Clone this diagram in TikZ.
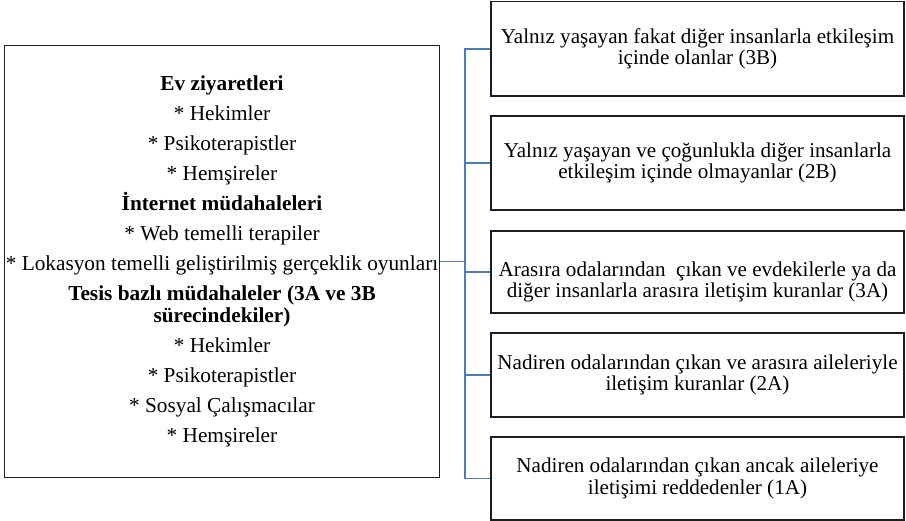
\documentclass[tikz,border=0pt]{standalone}
\usepackage{fontspec}
\setmainfont{Liberation Serif}
\definecolor{connblue}{RGB}{74,126,187}
\definecolor{boxline}{RGB}{30,30,30}
\begin{document}
\begin{tikzpicture}[x=1pt,y=-1pt,
  rbox/.style={draw=boxline, line width=1.6pt, minimum width=413pt, align=center, inner sep=0pt, font=\fontsize{21.1}{21.5}\selectfont},
  lbox/.style={draw=boxline, line width=1.6pt, minimum width=435pt, minimum height=432pt, align=center, inner sep=0pt, font=\fontsize{21.3}{30}\selectfont},
  conn/.style={draw=connblue, line width=1.8pt}]
\useasboundingbox (0,0) rectangle (906,521);

\node[lbox] (left) at (222,261.5) {\textbf{Ev ziyaretleri}\\
* Hekimler\\
* Psikoterapistler\\
* Hemşireler\\
\textbf{İnternet müdahaleleri}\\
* Web temelli terapiler\\
* Lokasyon temelli geliştirilmiş gerçeklik oyunları\\
\textbf{Tesis bazlı müdahaleler (3A ve 3B}\\[-8pt]
\textbf{sürecindekiler)}\\
* Hekimler\\
* Psikoterapistler\\
* Sosyal Çalışmacılar\\
* Hemşireler};

\node[rbox, minimum height=94.5pt] (b1) at (697.5,48.75) {Yalnız yaşayan fakat diğer insanlarla etkileşim\\ içinde olanlar (3B)};
\node[rbox, minimum height=94pt] (b2) at (697.5,163) {Yalnız yaşayan ve çoğunlukla diğer insanlarla\\ etkileşim içinde olmayanlar (2B)};
\node[rbox, minimum height=82pt] (b3) at (697.5,272) {\rule{0pt}{35pt}Arasıra odalarından \ çıkan ve evdekilerle ya da\\ diğer insanlarla arasıra iletişim kuranlar (3A)};
\node[rbox, minimum height=84pt] (b4) at (697.5,375) {Nadiren odalarından çıkan ve arasıra aileleriyle\\ iletişim kuranlar (2A)};
\node[rbox, minimum height=83pt] (b5) at (697.5,478.5) {Nadiren odalarından çıkan ancak aileleriye\\ iletişimi reddedenler (1A)};

\coordinate (trunk) at ([xshift=24.5pt]left.east);
\draw[conn] (left.east) -- (trunk);
\foreach \b in {b1,b2,b3,b4,b5}
  \draw[conn] (trunk) |- (\b.west);
\end{tikzpicture}
\end{document}
